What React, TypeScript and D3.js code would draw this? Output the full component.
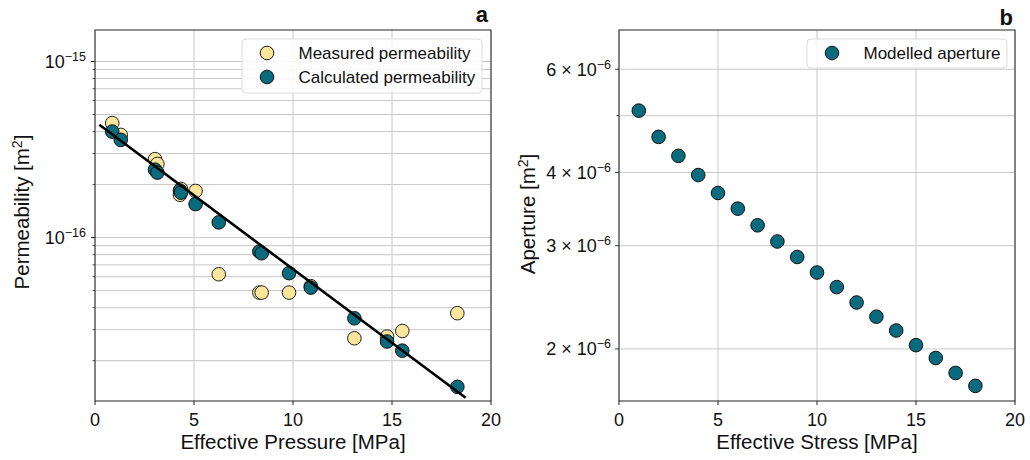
import React from 'react';
import * as d3 from 'd3';

// panel a: effective pressure [MPa] for each sample
const pressure = [0.87, 1.3, 3.03, 3.15, 4.29, 4.34, 5.08, 6.25, 8.3, 8.42, 9.8, 10.9, 13.1, 14.75, 15.52, 18.3];
const measuredPerm = [4.47e-16, 3.83e-16, 2.79e-16, 2.62e-16, 1.75e-16, 1.89e-16, 1.84e-16, 6.19e-17, 4.87e-17, 4.87e-17, 4.87e-17, 5.3e-17, 2.68e-17, 2.74e-17, 2.95e-17, 3.72e-17];
const calculatedPerm = [4.0e-16, 3.59e-16, 2.43e-16, 2.34e-16, 1.85e-16, 1.8e-16, 1.55e-16, 1.22e-16, 8.33e-17, 8.15e-17, 6.28e-17, 5.2e-17, 3.48e-17, 2.57e-17, 2.28e-17, 1.42e-17];
// fitted trend line end points
const fitPressure = [0.22, 18.72];
const fitPerm = [4.37e-16, 1.23e-17];

// panel b: modelled aperture vs effective stress
const stress = [1, 2, 3, 4, 5, 6, 7, 8, 9, 10, 11, 12, 13, 14, 15, 16, 17, 18];
const aperture = [5.1e-6, 4.6e-6, 4.27e-6, 3.96e-6, 3.69e-6, 3.47e-6, 3.25e-6, 3.05e-6, 2.87e-6, 2.7e-6, 2.55e-6, 2.4e-6, 2.27e-6, 2.15e-6, 2.03e-6, 1.93e-6, 1.82e-6, 1.73e-6];

const xTicks = [0, 5, 10, 15, 20];
const permMajor = [-15, -16];
const apertureMajor = [6, 4, 3, 2];
const apertureGrid = [2, 3, 4, 5, 6];

const YELLOW = '#fce69c';
const TEAL = '#0a6a7e';
const GRID = '#c8c8c8';
const FONT = '"Liberation Sans", Arial, sans-serif';

const TICK_FS = 18;
const SUP_FS = 12.5;
const LABEL_FS = 20.5;

const top = 30, bottom = 401;

const Legend = ({ x, y, w, h, items }) => (
  <g transform={`translate(${x},${y})`}>
    <rect width={w} height={h} rx={4} fill="#fff" fillOpacity={0.85} stroke="#dcdcdc" />
    {items.map((it, i) => (
      <g key={i} transform={`translate(0,${14 + i * 24})`}>
        <circle cx={25} cy={0} r={6.8} fill={it.color} stroke="#111" strokeWidth={1} />
        <text x={56.5} y={6} fontSize={17} fill="#111">{it.label}</text>
      </g>
    ))}
  </g>
);

export default function App() {
  // ---- panel a
  const xa = d3.scaleLinear().domain([0, 20]).range([95, 491]);
  const ya = d3.scaleLog().domain([1.18e-17, 1.51e-15]).range([bottom, top]);
  const permGrid = [];
  for (const e of [-17, -16, -15]) {
    for (let m = 1; m < 10; m++) {
      const v = m * Math.pow(10, e);
      if (v >= ya.domain()[0] && v <= ya.domain()[1]) permGrid.push(v);
    }
  }
  const fitLine = d3.line<number>()
    .x((_, i) => xa(fitPressure[i]))
    .y(d => ya(d));

  // ---- panel b
  const xb = d3.scaleLinear().domain([0, 20]).range([619, 1015]);
  const yb = d3.scaleLog().domain([1.63e-6, 7.0e-6]).range([bottom, top]);

  return (
    <svg width={1030} height={460} style={{ position: 'absolute', left: 0, top: 0, background: '#fff' }} fontFamily={FONT}>
      {/* ===== panel a ===== */}
      <g>
        {permGrid.map((v, i) => (
          <line key={i} x1={95} x2={491} y1={ya(v)} y2={ya(v)} stroke={GRID} strokeWidth={1} />
        ))}
        {xTicks.map(t => (
          <line key={t} x1={xa(t)} x2={xa(t)} y1={top} y2={bottom} stroke={GRID} strokeWidth={1} />
        ))}
        {permGrid.map((v, i) => (
          <line key={'t' + i} x1={95} x2={92.5} y1={ya(v)} y2={ya(v)} stroke="#222" strokeWidth={0.8} />
        ))}
        {permMajor.map(e => (
          <g key={e}>
            <line x1={95} x2={91} y1={ya(Math.pow(10, e))} y2={ya(Math.pow(10, e))} stroke="#222" />
            <text x={86} y={ya(Math.pow(10, e)) + 6.5} textAnchor="end" fontSize={TICK_FS} fill="#111">
              10<tspan dy={-7} fontSize={SUP_FS}>{'\u2212' + Math.abs(e)}</tspan>
            </text>
          </g>
        ))}
        {xTicks.map(t => (
          <g key={'x' + t}>
            <line x1={xa(t)} x2={xa(t)} y1={bottom} y2={bottom + 4} stroke="#222" />
            <text x={xa(t)} y={426} textAnchor="middle" fontSize={TICK_FS} fill="#111">{t}</text>
          </g>
        ))}
        {pressure.map((p, i) => (
          <circle key={'m' + i} cx={xa(p)} cy={ya(measuredPerm[i])} r={6.8} fill={YELLOW} stroke="#222" strokeWidth={1} />
        ))}
        {pressure.map((p, i) => (
          <circle key={'c' + i} cx={xa(p)} cy={ya(calculatedPerm[i])} r={6.8} fill={TEAL} stroke="#111" strokeWidth={1} />
        ))}
        <path d={fitLine(fitPerm) || ''} fill="none" stroke="#000" strokeWidth={2.6} />
        <rect x={95} y={top} width={396} height={bottom - top} fill="none" stroke="#222" strokeWidth={1} />
        <Legend x={242} y={39} w={240} h={54} items={[
          { label: 'Measured permeability', color: YELLOW },
          { label: 'Calculated permeability', color: TEAL },
        ]} />
        <text x={293} y={449} textAnchor="middle" fontSize={LABEL_FS} fill="#111">Effective Pressure [MPa]</text>
        <text transform="translate(29,212) rotate(-90)" textAnchor="middle" fontSize={LABEL_FS} fill="#111">
          Permeability [m<tspan dy={-7} fontSize={14}>2</tspan><tspan dy={7}>]</tspan>
        </text>
        <text x={488} y={22} textAnchor="end" fontSize={22} fontWeight="bold" fill="#111">a</text>
      </g>

      {/* ===== panel b ===== */}
      <g>
        {apertureGrid.map(m => (
          <line key={m} x1={619} x2={1015} y1={yb(m * 1e-6)} y2={yb(m * 1e-6)} stroke={GRID} strokeWidth={1} />
        ))}
        {xTicks.map(t => (
          <line key={t} x1={xb(t)} x2={xb(t)} y1={top} y2={bottom} stroke={GRID} strokeWidth={1} />
        ))}
        {apertureGrid.map(m => (
          <line key={'t' + m} x1={619} x2={apertureMajor.includes(m) ? 615 : 616.5} y1={yb(m * 1e-6)} y2={yb(m * 1e-6)} stroke="#222" strokeWidth={0.9} />
        ))}
        {apertureMajor.map(m => (
          <text key={'l' + m} x={611} y={yb(m * 1e-6) + 6.5} textAnchor="end" fontSize={TICK_FS} fill="#111">
            {m} {'\u00d7'} 10<tspan dy={-7} fontSize={SUP_FS}>{'\u22126'}</tspan>
          </text>
        ))}
        {xTicks.map(t => (
          <g key={'x' + t}>
            <line x1={xb(t)} x2={xb(t)} y1={bottom} y2={bottom + 4} stroke="#222" />
            <text x={xb(t)} y={426} textAnchor="middle" fontSize={TICK_FS} fill="#111">{t}</text>
          </g>
        ))}
        {stress.map((s, i) => (
          <circle key={i} cx={xb(s)} cy={yb(aperture[i])} r={6.8} fill={TEAL} stroke="#111" strokeWidth={1} />
        ))}
        <rect x={619} y={top} width={396} height={bottom - top} fill="none" stroke="#222" strokeWidth={1} />
        <Legend x={807} y={39} w={200} h={29} items={[{ label: 'Modelled aperture', color: TEAL }]} />
        <text x={817} y={449} textAnchor="middle" fontSize={LABEL_FS} fill="#111">Effective Stress [MPa]</text>
        <text transform="translate(535,214) rotate(-90)" textAnchor="middle" fontSize={LABEL_FS} fill="#111">
          Aperture [m<tspan dy={-7} fontSize={14}>2</tspan><tspan dy={7}>]</tspan>
        </text>
        <text x={1013} y={25} textAnchor="end" fontSize={22} fontWeight="bold" fill="#111">b</text>
      </g>
    </svg>
  );
}
